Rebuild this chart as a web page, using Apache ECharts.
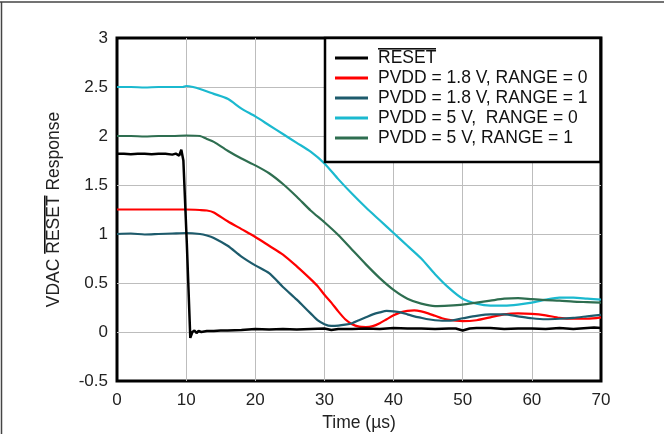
<!DOCTYPE html>
<html><head><meta charset="utf-8">
<script src="https://cdn.jsdelivr.net/npm/echarts@6/dist/echarts.min.js"></script>
<style>html,body{margin:0;padding:0;background:#fff}#c{width:664px;height:434px}</style>
</head><body><div id="c"></div>
<script>
const seriesNames = ['RESET', 'PVDD = 1.8 V, RANGE = 0', 'PVDD = 1.8 V, RANGE = 1', 'PVDD = 5 V,  RANGE = 0', 'PVDD = 5 V, RANGE = 1'];
const yAxisTitle = ['VDAC ', 'RESET', ' Response'];
const xAxisTitle = 'Time (\u00b5s)';
const xTicks = [0,10,20,30,40,50,60,70];
const yTicks = [-0.5,0,0.5,1,1.5,2,2.5,3];

const resetT = [0,1,2,3,4,5,6,7,8,8.5,9,9.3,9.6,10.1,10.6,10.9,11.2,11.5,11.8,12.2,13,14,15,16,18,20,22,24,26,28,30,31,32,34,36,38,40,42,44,46,48,49,50,51,52,54,56,58,60,62,64,65,66,68,69,70];
const resetV = [1.82,1.82,1.815,1.82,1.82,1.815,1.82,1.82,1.81,1.82,1.80,1.86,1.75,0.90,-0.06,0.0,0.015,-0.01,0.01,0.0,0.01,0.01,0.015,0.015,0.02,0.03,0.025,0.03,0.025,0.03,0.035,0.02,0.03,0.03,0.035,0.03,0.04,0.035,0.035,0.03,0.035,0.035,0.015,0.035,0.04,0.04,0.03,0.035,0.035,0.03,0.04,0.035,0.03,0.04,0.045,0.04];

const r18r0T = [0,2,4,6,8,10,12,13,14,16,18,20,22,24,26,28,29,30,31,32,33,34,35,36,37,38,39,40,41,42,43,44,45,46,47,48,49,50,52,54,56,58,60,62,64,66,68,70];
const r18r0V = [1.25,1.25,1.25,1.25,1.25,1.25,1.245,1.24,1.22,1.13,1.05,0.97,0.88,0.79,0.67,0.54,0.47,0.38,0.30,0.21,0.13,0.08,0.055,0.05,0.06,0.09,0.13,0.17,0.20,0.215,0.22,0.21,0.19,0.165,0.14,0.125,0.115,0.11,0.12,0.15,0.18,0.19,0.185,0.17,0.145,0.135,0.135,0.15];

const r18r1T = [0,2,4,6,8,10,12,13,14,16,18,20,22,24,26,27,28,29,30,31,32,33,34,35,36,37,38,39,40,41,42,43,44,45,46,47,48,50,52,54,56,58,60,62,64,66,68,70];
const r18r1V = [1.00,1.005,0.995,1.00,1.005,1.01,1.00,0.985,0.96,0.88,0.77,0.68,0.60,0.46,0.33,0.26,0.19,0.12,0.08,0.062,0.065,0.075,0.09,0.12,0.15,0.18,0.20,0.215,0.21,0.20,0.18,0.16,0.145,0.13,0.12,0.115,0.115,0.14,0.165,0.18,0.18,0.16,0.14,0.13,0.135,0.145,0.16,0.175];

const r5r0T = [0,2,4,6,8,9.5,10,11,12,14,16,18,20,22,24,26,28,30,32,34,36,38,40,42,44,46,48,50,52,54,56,58,60,62,64,66,68,70];
const r5r0V = [2.50,2.50,2.495,2.50,2.50,2.50,2.51,2.50,2.48,2.43,2.38,2.28,2.20,2.11,2.02,1.93,1.84,1.72,1.56,1.41,1.27,1.14,1.01,0.88,0.75,0.59,0.45,0.34,0.29,0.27,0.27,0.28,0.30,0.33,0.35,0.35,0.34,0.33];

const r5r1T = [0,2,4,6,8,10,12,13,14,16,18,20,22,24,26,28,30,32,34,36,38,40,42,44,46,48,50,52,54,56,58,60,62,64,66,68,70];
const r5r1V = [2.00,2.00,1.995,2.00,2.00,2.005,2.00,1.97,1.94,1.85,1.77,1.70,1.62,1.51,1.38,1.24,1.12,0.99,0.84,0.69,0.55,0.43,0.34,0.29,0.265,0.27,0.28,0.30,0.32,0.34,0.345,0.335,0.325,0.32,0.31,0.305,0.30];

const colors = ['#000000','#ff0000','#1d5b6c','#1bb9cf','#2e6e50'];
const zip = (a,b) => a.map((t,i)=>[t,b[i]]);
const dataSets = [zip(resetT,resetV), zip(r18r0T,r18r0V), zip(r18r1T,r18r1V), zip(r5r0T,r5r0V), zip(r5r1T,r5r1V)];

const font = 'Liberation Sans, Arial, sans-serif';
const FS = 17.5;

// small canvas used as a stretched background that paints an overline at the top of a text box
function overlineCanvas() {
  const c = document.createElement('canvas');
  c.width = 8; c.height = 20;
  const g = c.getContext('2d');
  g.fillStyle = 'rgba(17,17,17,1)'; g.fillRect(0, 0, 8, 1);
  g.fillStyle = 'rgba(17,17,17,0.6)'; g.fillRect(0, 1, 8, 1);
  return c;
}
const olImg = overlineCanvas();
const richO = {o: {fontSize: FS, fontFamily: font, color: '#111', height: 20, lineHeight: 20, backgroundColor: {image: olImg}}};

const series = [1,2,3,4,0].map(i => ({
  name: seriesNames[i], type: 'line', data: dataSets[i], showSymbol: false, symbol: 'none',
  smooth: i === 0 ? false : 0.25, color: colors[i],
  lineStyle: {width: i === 0 ? 2.5 : 2.2, color: colors[i]}, z: i === 0 ? 5 : 3
}));

const chart = echarts.init(document.getElementById('c'), null, {renderer: 'canvas'});
chart.setOption({
  animation: false,
  backgroundColor: '#fff',
  textStyle: {fontFamily: font},
  grid: {left: 117, right: 63, top: 38, bottom: 53, show: true, borderColor: '#000', borderWidth: 3,
         backgroundColor: 'transparent', containLabel: false, outerBoundsMode: 'none'},
  xAxis: {
    type: 'value', min: xTicks[0], max: xTicks[xTicks.length-1], interval: 10,
    name: xAxisTitle, nameLocation: 'middle', nameGap: 32,
    nameTextStyle: {fontSize: FS, color: '#222', fontFamily: font},
    axisLine: {show: false}, axisTick: {show: false},
    axisLabel: {fontSize: 17, color: '#222', margin: 11, fontFamily: font},
    splitLine: {show: true, showMinLine: false, showMaxLine: false, lineStyle: {color: '#bdbdbd', width: 1}}
  },
  yAxis: {
    type: 'value', min: yTicks[0], max: yTicks[yTicks.length-1], interval: 0.5,
    name: yAxisTitle[0] + '{o|' + yAxisTitle[1] + '}' + yAxisTitle[2], nameLocation: 'middle', nameGap: 53,
    nameTextStyle: {fontSize: FS, color: '#222', fontFamily: font, lineHeight: 20, rich: {o: Object.assign({}, richO.o, {color: '#222'})}},
    axisLine: {show: false}, axisTick: {show: false},
    axisLabel: {fontSize: 17, color: '#222', margin: 9, fontFamily: font},
    splitLine: {show: true, showMinLine: false, showMaxLine: false, lineStyle: {color: '#bdbdbd', width: 1}}
  },
  legend: {
    orient: 'vertical', left: 325, top: 38,
    data: seriesNames.map(n => ({name: n, icon: 'rect'})),
    formatter: n => n === 'RESET' ? '{o|RESET}' : n,
    itemWidth: 33, itemHeight: 3, itemGap: 0,
    padding: [10, 13, 14, 10],
    backgroundColor: '#fff', borderColor: '#000', borderWidth: 2.5,
    textStyle: {fontSize: FS, color: '#111', lineHeight: 20, fontFamily: font, padding: [0,0,0,5], rich: richO}
  },
  graphic: [
    {type: 'line', shape: {x1: 0, y1: 2, x2: 664, y2: 2}, style: {stroke: '#444', lineWidth: 1.5}},
    {type: 'line', shape: {x1: 1.5, y1: 2, x2: 1.5, y2: 434}, style: {stroke: '#444', lineWidth: 1.5}}
  ],
  series: series
});
</script></body></html>
